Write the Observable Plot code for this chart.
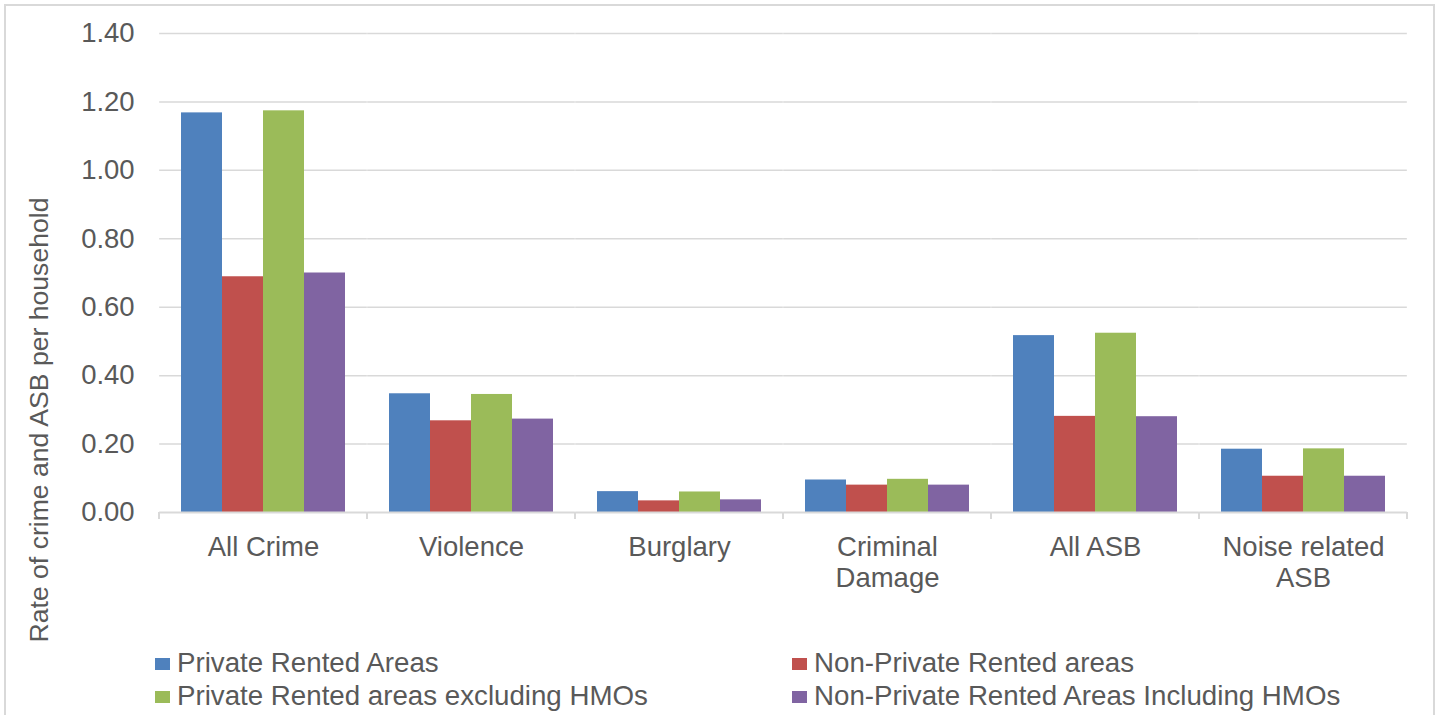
<!DOCTYPE html>
<html>
<head>
<meta charset="utf-8">
<script src="https://cdn.jsdelivr.net/npm/d3@7"></script>
<script src="https://cdn.jsdelivr.net/npm/@observablehq/plot@0.6"></script>
<style>
  html, body { margin: 0; padding: 0; background: #fff; }
  body { width: 1443px; height: 715px; position: relative; overflow: hidden; font-family: "Liberation Sans", Arial, sans-serif; color: #595959; }
  #frame { position: absolute; left: 4px; top: 4px; width: 1431px; height: 780px; border: 2px solid #D9D9D9; box-sizing: border-box; }
  #chart { position: absolute; left: 0; top: 0; }
  #ylabel { position: absolute; left: 39px; top: 420px; transform: translate(-50%, -50%) rotate(-90deg); white-space: nowrap; font-size: 26.6px; line-height: 1; }
  .lg { position: absolute; height: 30px; line-height: 30px; display: flex; align-items: center; font-size: 27.7px; white-space: nowrap; }
  .lg .sw { width: 15px; height: 12px; margin-right: 7px; flex: none; position: relative; top: 1px; }
</style>
</head>
<body>
<div id="frame"></div>
<div id="chart"></div>
<div id="ylabel"></div>
<div id="legend"></div>
<script>
const categories = ["All Crime", "Violence", "Burglary", "Criminal Damage", "All ASB", "Noise related ASB"];
const categoryLabels = ["All Crime", "Violence", "Burglary", "Criminal\nDamage", "All ASB", "Noise related\nASB"];
const seriesNames = ["Private Rented Areas", "Non-Private Rented areas", "Private Rented areas excluding HMOs", "Non-Private Rented Areas Including HMOs"];
const seriesColors = ["#4F81BD", "#C0504D", "#9BBB59", "#8064A2"];
const privateRented = [1.168, 0.347, 0.061, 0.095, 0.517, 0.185];
const nonPrivateRented = [0.689, 0.268, 0.034, 0.080, 0.281, 0.106];
const privateExclHMOs = [1.174, 0.345, 0.060, 0.097, 0.524, 0.186];
const nonPrivateInclHMOs = [0.700, 0.273, 0.037, 0.080, 0.280, 0.106];
const yTicks = [0, 0.2, 0.4, 0.6, 0.8, 1.0, 1.2, 1.4];
const yLabel = "Rate of crime and ASB per household";

const seriesValues = [privateRented, nonPrivateRented, privateExclHMOs, nonPrivateInclHMOs];
const rows = [];
categories.forEach((c, i) => {
  seriesNames.forEach((s, j) => rows.push({category: c, series: s, value: seriesValues[j][i]}));
});

const W = 1443, H = 610, ML = 158, MR = 35, MT = 33, MB = 98;
const padInner = 0.2, padOuter = 0.1;
const fxStep = (W - ML - MR) / (categories.length - padInner + 2 * padOuter);
const outerGap = fxStep * padOuter; // half of the gap between groups

const chart = Plot.plot({
  width: W,
  height: H,
  marginTop: MT,
  marginBottom: MB,
  marginLeft: ML,
  marginRight: MR,
  style: {fontFamily: "'Liberation Sans', Arial, sans-serif", color: "#595959", background: "transparent", overflow: "visible"},
  fx: {domain: categories, paddingInner: padInner, paddingOuter: padOuter, label: null},
  x: {domain: seriesNames, padding: 0, axis: null},
  y: {domain: [0, 1.4], axis: null},
  color: {domain: seriesNames, range: seriesColors},
  marks: [
    Plot.ruleY(yTicks.slice(1), {stroke: "#D9D9D9", strokeWidth: 1.5, strokeOpacity: 1, insetLeft: -outerGap, insetRight: -outerGap}),
    Plot.barY(rows, {fx: "category", x: "series", y: "value", fill: "series"}),
    Plot.ruleY([0], {stroke: "#D9D9D9", strokeWidth: 2, strokeOpacity: 1, insetLeft: -outerGap, insetRight: -outerGap}),
    Plot.axisY({ticks: yTicks, tickFormat: d => d.toFixed(2), tickSize: 0, tickPadding: 25 + outerGap, fontSize: 27.5, fill: "#595959", label: null}),
    Plot.axisFx({anchor: "bottom", tickSize: 0, tickPadding: 22, fontSize: 27.5, lineHeight: 1.12, fill: "#595959", label: null,
      tickFormat: d => categoryLabels[categories.indexOf(d)]})
  ]
});
document.getElementById("chart").append(chart);

// category boundary ticks, placed from the fx and y scales
const fx = chart.scale("fx");
const ys = chart.scale("y");
const step = fx.step ?? fx.bandwidth / (1 - padInner);
const half = (step - fx.bandwidth) / 2;
const bounds = categories.map(c => fx.apply(c) - half).concat([fx.apply(categories[categories.length - 1]) + fx.bandwidth + half]);
const y0 = ys.apply(0);
d3.select(chart).append("g").selectAll("line").data(bounds).join("line")
  .attr("x1", d => d).attr("x2", d => d).attr("y1", y0).attr("y2", y0 + 7)
  .attr("stroke", "#D9D9D9").attr("stroke-width", 2);

document.getElementById("ylabel").textContent = yLabel;

const legendPos = [[155, 647.5], [792, 647.5], [155, 680.8], [792, 680.8]];
const legend = d3.select("#legend");
seriesNames.forEach((s, i) => {
  const item = legend.append("div").attr("class", "lg")
    .style("left", legendPos[i][0] + "px").style("top", legendPos[i][1] + "px");
  item.append("div").attr("class", "sw").style("background", seriesColors[i]);
  item.append("span").text(s);
});
</script>
</body>
</html>
